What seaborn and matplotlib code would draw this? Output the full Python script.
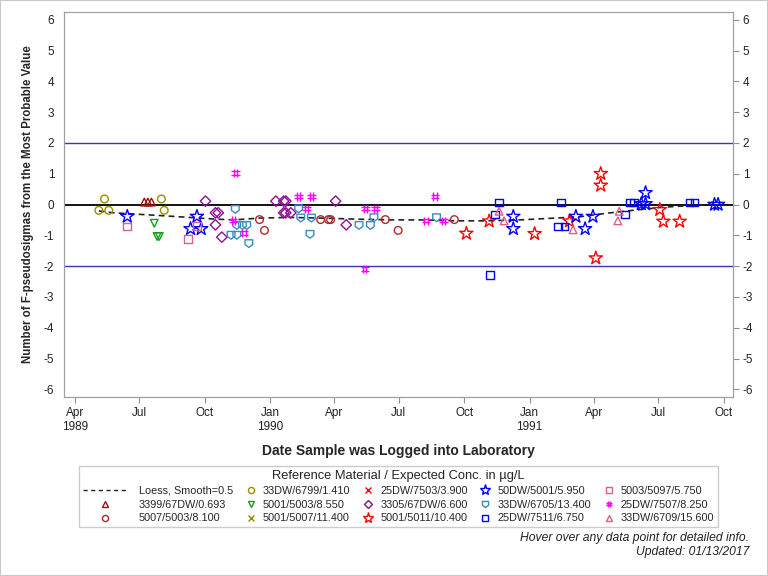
import matplotlib
matplotlib.use("Agg")
import matplotlib.pyplot as plt
import matplotlib.dates as mdates
from matplotlib.path import Path
from matplotlib.lines import Line2D
from matplotlib.patches import Rectangle
from matplotlib.legend_handler import HandlerLine2D
import pandas as pd
import seaborn as sns

# --- data ---
d_3399 = ['1989-07-08', '1989-07-13', '1989-07-18']
v_3399 = [0.08, 0.08, 0.08]

d_5007_5003 = ['1989-12-17', '1989-12-24', '1990-03-13', '1990-03-24', '1990-03-27',
               '1990-06-12', '1990-06-30', '1990-09-17']
v_5007_5003 = [-0.49, -0.84, -0.49, -0.49, -0.49, -0.49, -0.84, -0.49]

d_6799 = ['1989-05-05', '1989-05-13', '1989-05-19', '1989-08-01', '1989-08-05']
v_6799 = [-0.19, 0.18, -0.19, 0.18, -0.19]

d_5001_5003 = ['1989-07-22', '1989-07-26', '1989-07-29']
v_5001_5003 = [-0.61, -1.04, -1.04]

d_5001_5007 = ['1990-01-11', '1990-01-23', '1990-07-15']
v_5001_5007 = [-0.50, -0.50, -0.50]

d_7503 = ['1989-05-14', '1989-08-19', '1989-08-26']
v_7503 = [-0.38, -0.36, -0.77]

d_3305 = ['1989-10-02', '1989-10-16', '1989-10-20', '1989-10-16', '1989-10-25', '1990-01-09',
          '1990-01-20', '1990-01-23', '1990-01-20', '1990-01-23', '1990-01-30', '1990-04-03',
          '1990-04-18']
v_3305 = [0.11, -0.27, -0.27, -0.66, -1.06, 0.11, 0.11, 0.11, -0.27, -0.27, -0.27, 0.11, -0.66]

d_5001_5011 = ['1990-10-04', '1990-11-05', '1991-01-08', '1991-02-26', '1991-04-04', '1991-04-11',
               '1991-04-11', '1991-07-03', '1991-07-08', '1991-07-31']
v_5001_5011 = [-0.94, -0.54, -0.95, -0.54, -1.74, 1.00, 0.62, -0.17, -0.55, -0.55]

d_50dw = ['1989-06-14', '1989-09-11', '1989-09-20', '1989-09-26', '1990-12-09', '1990-12-09',
          '1991-03-07', '1991-03-20', '1991-03-31', '1991-06-07', '1991-06-13', '1991-06-13',
          '1991-09-18', '1991-09-23']
v_50dw = [-0.39, -0.79, -0.39, -0.79, -0.39, -0.79, -0.39, -0.79, -0.39, 0.02, 0.02, 0.38, 0.0, 0.0]

d_6705 = ['1989-11-07', '1989-11-13', '1989-11-15', '1989-11-15', '1989-11-23', '1989-11-29',
          '1989-12-02', '1990-02-10', '1990-02-13', '1990-02-26', '1990-02-28', '1990-05-06',
          '1990-05-22', '1990-05-27', '1990-08-23']
v_6705 = [-1.00, -0.16, -0.68, -1.00, -0.68, -0.68, -1.27, -0.14, -0.44, -0.97, -0.44, -0.68,
          -0.68, -0.43, -0.43]

d_7511 = ['1990-11-06', '1990-11-13', '1990-11-19', '1991-02-10', '1991-02-14', '1991-02-19',
          '1991-05-15', '1991-05-22', '1991-05-28', '1991-08-14', '1991-08-21']
v_7511 = [-2.28, -0.32, 0.06, -0.72, 0.06, -0.72, -0.32, 0.06, 0.06, 0.06, 0.06]

d_5003_5097 = ['1989-06-14', '1989-09-07', '1989-09-20']
v_5003_5097 = [-0.71, -1.11, -0.70]

d_7507 = ['1989-11-10', '1989-11-13', '1989-11-25', '1990-02-10', '1990-02-21', '1990-02-28',
          '1990-05-14', '1990-05-15', '1990-05-29', '1990-08-08', '1990-08-21', '1990-09-02']
v_7507 = [-0.52, 1.02, -0.92, 0.26, -0.14, 0.26, -2.09, -0.14, -0.14, -0.53, 0.26, -0.53]

d_6709 = ['1990-11-19', '1990-11-26', '1991-03-03', '1991-05-05', '1991-05-07']
v_6709 = [-0.22, -0.53, -0.82, -0.53, -0.22]

# loess fit (smooth=0.5) as drawn
loess_dates = ['1989-05-05', '1989-05-26', '1989-07-31', '1989-10-13', '1989-11-10', '1989-12-18',
               '1990-01-29', '1990-03-13', '1990-04-24', '1990-06-19', '1990-07-31', '1990-09-21',
               '1990-11-02', '1990-12-18', '1991-01-29', '1991-03-12', '1991-04-21', '1991-05-26',
               '1991-07-07', '1991-09-01', '1991-09-22']
loess_vals = [-0.21, -0.27, -0.36, -0.47, -0.50, -0.44, -0.42, -0.44, -0.47, -0.50, -0.50, -0.53,
              -0.53, -0.50, -0.45, -0.40, -0.28, -0.19, -0.09, -0.01, 0.0]

tick_dates = ['1989-04-01', '1989-07-01', '1989-10-01', '1990-01-01', '1990-04-01', '1990-07-01',
              '1990-10-01', '1991-01-01', '1991-04-01', '1991-07-01', '1991-10-01']
tick_labels = ['Apr\n1989', 'Jul', 'Oct', 'Jan\n1990', 'Apr', 'Jul', 'Oct', 'Jan\n1991', 'Apr',
               'Jul', 'Oct']

series = [
    ('3399/67DW/0.693', d_3399, v_3399),
    ('5007/5003/8.100', d_5007_5003, v_5007_5003),
    ('33DW/6799/1.410', d_6799, v_6799),
    ('5001/5003/8.550', d_5001_5003, v_5001_5003),
    ('5001/5007/11.400', d_5001_5007, v_5001_5007),
    ('25DW/7503/3.900', d_7503, v_7503),
    ('3305/67DW/6.600', d_3305, v_3305),
    ('5001/5011/10.400', d_5001_5011, v_5001_5011),
    ('50DW/5001/5.950', d_50dw, v_50dw),
    ('33DW/6705/13.400', d_6705, v_6705),
    ('25DW/7511/6.750', d_7511, v_7511),
    ('5003/5097/5.750', d_5003_5097, v_5003_5097),
    ('25DW/7507/8.250', d_7507, v_7507),
    ('33DW/6709/15.600', d_6709, v_6709),
]

# --- markers ---
shield = Path([(-1, 1), (1, 1), (1, -0.25), (0, -1), (-1, -0.25), (-1, 1)],
              [Path.MOVETO, Path.LINETO, Path.LINETO, Path.LINETO, Path.LINETO, Path.CLOSEPOLY])
hash_mark = Path([(-0.4, -1), (-0.4, 1), (0.4, -1), (0.4, 1), (-1, -0.4), (1, -0.4), (-1, 0.4), (1, 0.4)],
                 [Path.MOVETO, Path.LINETO] * 4)

# label -> (marker, colour, marker size in pt)
styles = {
    '3399/67DW/0.693': ('^', '#A01010', 5.5),
    '5007/5003/8.100': ('o', '#B0282E', 5.5),
    '33DW/6799/1.410': ('o', '#9C8E00', 5.5),
    '5001/5003/8.550': ('v', '#14A014', 5.5),
    '5001/5007/11.400': ('x', '#8F8F10', 5.5),
    '25DW/7503/3.900': ('x', '#FF0000', 5.5),
    '3305/67DW/6.600': ('D', '#8E1090', 5.3),
    '5001/5011/10.400': ('*', '#FF0000', 10.0),
    '50DW/5001/5.950': ('*', '#0000FF', 10.0),
    '33DW/6705/13.400': (shield, '#3A8CC0', 5.5),
    '25DW/7511/6.750': ('s', '#0000FF', 5.5),
    '5003/5097/5.750': ('s', '#D8608C', 5.5),
    '25DW/7507/8.250': (hash_mark, '#FF00FF', 6.0),
    '33DW/6709/15.600': ('^', '#E05C8C', 5.5),
}


class RightMarker(HandlerLine2D):
    """Legend marker sitting at the right end of the handle box (close to its text)."""
    def get_xdata(self, legend, xdescent, ydescent, width, height, fontsize):
        xm = -xdescent + width - 0.9
        return [xm, xm], [xm]


sns.set_theme(style="white")
plt.rcParams['font.family'] = ['Liberation Sans', 'DejaVu Sans']
plt.rcParams['axes.unicode_minus'] = False

fig = plt.figure(figsize=(7.68, 5.76), dpi=100)
ax = fig.add_axes([64 / 768, 1 - 397 / 576, 669 / 768, 385 / 576])

# reference lines
ax.axhline(0, color='black', lw=1.3, zorder=1)
ax.axhline(2, color='#3535C8', lw=1.0, zorder=1)
ax.axhline(-2, color='#3535C8', lw=1.0, zorder=1)

loess = pd.DataFrame({'date': pd.to_datetime(loess_dates), 'val': loess_vals})
sns.lineplot(data=loess, x='date', y='val', ax=ax, color='#222222', lw=1.2,
             linestyle=(0, (3.5, 2.5)), zorder=2)

for name, dates, vals in series:
    mk, col, ms = styles[name]
    df = pd.DataFrame({'date': pd.to_datetime(dates), 'val': vals})
    sns.scatterplot(data=df, x='date', y='val', ax=ax, marker=mk, s=ms ** 2,
                    facecolor='none', edgecolor=col, color=col, linewidth=1.0, zorder=3)

ax.set_xlim(pd.Timestamp('1989-03-17'), pd.Timestamp('1991-10-14'))
ax.set_ylim(-6.25, 6.25)
ax.set_xticks(mdates.date2num(pd.to_datetime(tick_dates)))
ax.set_xticklabels(tick_labels)
ax.set_yticks(range(-6, 7))
ax.tick_params(axis='both', direction='out', length=4, width=0.8, color='#909090',
               labelsize=8.5, labelcolor='#222222', pad=3)
ax.tick_params(axis='y', right=True, labelright=True)
ax.tick_params(axis='x', bottom=True)
for sp in ax.spines.values():
    sp.set_color('#A0A0A0')
    sp.set_linewidth(0.9)

ax.set_xlabel('Date Sample was Logged into Laboratory', fontsize=10, fontweight='bold', labelpad=8)
ax.set_ylabel('Number of F-pseudosigmas from the Most Probable Value', fontsize=8.3,
              fontweight='bold', labelpad=7)

# legend, column-major order as in the reference
order = ['3399/67DW/0.693', '5007/5003/8.100',
         '33DW/6799/1.410', '5001/5003/8.550', '5001/5007/11.400',
         '25DW/7503/3.900', '3305/67DW/6.600', '5001/5011/10.400',
         '50DW/5001/5.950', '33DW/6705/13.400', '25DW/7511/6.750',
         '5003/5097/5.750', '25DW/7507/8.250', '33DW/6709/15.600']
handles = [Line2D([], [], color='#222222', lw=1.0, linestyle=(0, (3, 2.5)))]
labels = ['Loess, Smooth=0.5']
hmap = {}
for i, name in enumerate(order):
    mk, col, ms = styles[name]
    h = Line2D([], [], marker=mk, linestyle='none', markerfacecolor='none',
               markeredgecolor=col, markersize=ms * 0.8, markeredgewidth=1.0)
    handles.append(h)
    labels.append(name)
    if i >= 2:
        hmap[h] = RightMarker()

leg = fig.legend(handles, labels, loc='upper center', bbox_to_anchor=(398.5 / 768, 1 - 466 / 576),
                 ncol=5, title='Reference Material / Expected Conc. in µg/L', fontsize=7.8,
                 title_fontsize=9.3, frameon=True, fancybox=False, edgecolor='#C0C0C0',
                 handlelength=4.2, handletextpad=1.0, columnspacing=-2.45, borderpad=0.35,
                 labelspacing=0.36, borderaxespad=0, handler_map=hmap)
leg.get_frame().set_linewidth(1.0)

fig.text(749 / 768, 1 - 538 / 576, 'Hover over any data point for detailed info.', ha='right',
         va='center', fontsize=8.7, style='italic', color='#222222')
fig.text(749 / 768, 1 - 552 / 576, 'Updated: 01/13/2017', ha='right', va='center', fontsize=8.7,
         style='italic', color='#222222')

fig.patches.append(Rectangle((0, 0), 1, 1, transform=fig.transFigure, fill=False,
                             edgecolor='#C8C8C8', lw=1.5))

fig.savefig('out.png', dpi=100)
